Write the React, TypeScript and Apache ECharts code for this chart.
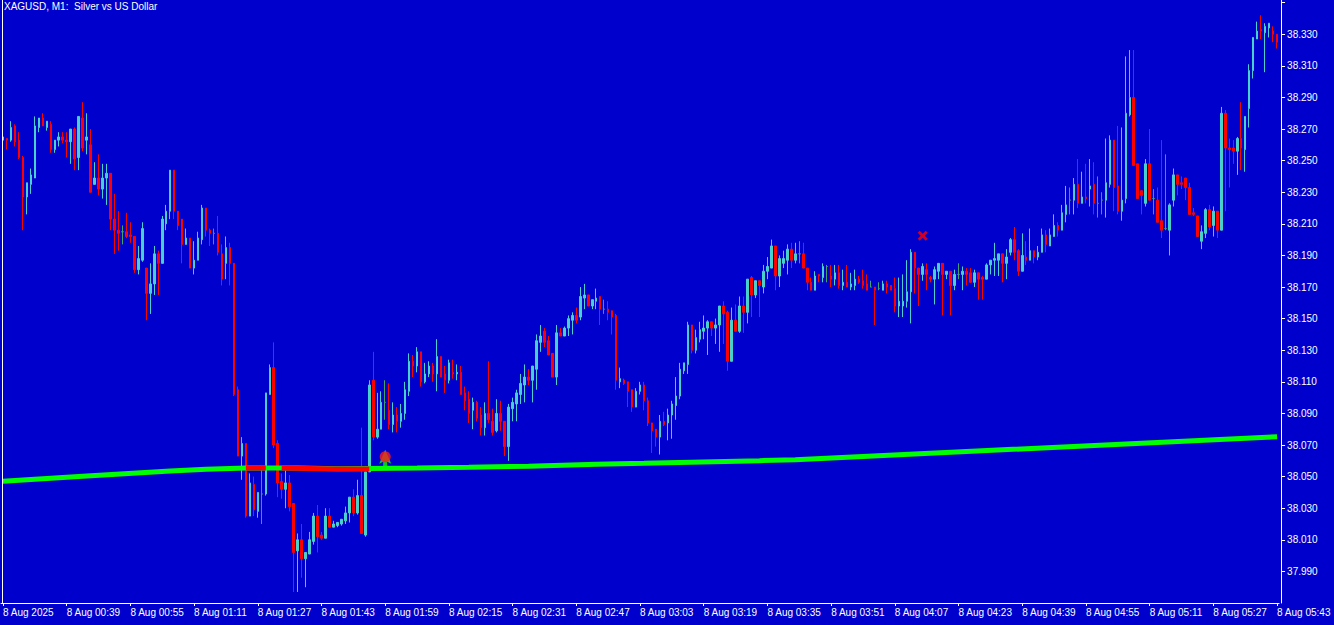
import React, { useEffect, useRef } from "react";
import * as echarts from "echarts";

const chartTitle = "XAGUSD, M1:  Silver vs US Dollar";
const firstBarMinute = 23; // 00:23
const labelStep = 16;
const timeLabels = [
  "8 Aug 2025", "8 Aug 00:39", "8 Aug 00:55", "8 Aug 01:11", "8 Aug 01:27", "8 Aug 01:43",
  "8 Aug 01:59", "8 Aug 02:15", "8 Aug 02:31", "8 Aug 02:47", "8 Aug 03:03", "8 Aug 03:19",
  "8 Aug 03:35", "8 Aug 03:51", "8 Aug 04:07", "8 Aug 04:23", "8 Aug 04:39", "8 Aug 04:55",
  "8 Aug 05:11", "8 Aug 05:27", "8 Aug 05:43",
];
const topPriceLabel = 38.33;

const opens = [
  38.263,38.264,38.263,38.272,38.263,38.252,38.227,38.235,38.239,38.271,
  38.277,38.271,38.273,38.257,38.263,38.265,38.263,38.262,38.270,38.252,
  38.277,38.263,38.260,38.235,38.239,38.232,38.239,38.242,38.213,38.206,
  38.205,38.205,38.203,38.202,38.181,38.187,38.182,38.166,38.172,38.191,
  38.185,38.210,38.218,38.244,38.218,38.213,38.197,38.201,38.182,38.187,
  38.200,38.220,38.206,38.204,38.204,38.191,38.185,38.195,38.185,38.105,
  38.063,38.071,38.025,38.045,38.028,38.039,38.039,38.102,38.119,38.071,
  38.047,38.042,38.046,38.033,38.003,38.010,37.998,38.001,38.009,38.025,
  38.013,38.011,38.025,38.018,38.019,38.020,38.022,38.027,38.037,38.027,
  38.038,38.013,38.053,38.111,38.075,38.080,38.097,38.092,38.083,38.089,
  38.085,38.090,38.104,38.123,38.120,38.129,38.110,38.115,38.120,38.115,
  38.126,38.115,38.111,38.116,38.115,38.116,38.103,38.099,38.092,38.097,
  38.089,38.081,38.090,38.085,38.079,38.090,38.085,38.069,38.093,38.096,
  38.102,38.108,38.113,38.111,38.118,38.135,38.142,38.136,38.128,38.113,
  38.141,38.139,38.144,38.149,38.152,38.151,38.163,38.165,38.158,38.161,
  38.164,38.156,38.156,38.155,38.152,38.110,38.111,38.110,38.105,38.094,
  38.104,38.108,38.098,38.084,38.080,38.075,38.085,38.084,38.089,38.095,
  38.101,38.117,38.121,38.146,38.130,38.137,38.142,38.144,38.148,38.144,
  38.146,38.158,38.154,38.123,38.149,38.142,38.158,38.154,38.176,38.165,
  38.174,38.170,38.180,38.182,38.196,38.177,38.185,38.187,38.194,38.187,
  38.191,38.191,38.182,38.173,38.168,38.178,38.176,38.183,38.177,38.175,
  38.179,38.171,38.173,38.170,38.171,38.175,38.174,38.172,38.170,38.170,
  38.169,38.168,38.172,38.171,38.169,38.158,38.158,38.161,38.167,38.192,
  38.182,38.178,38.181,38.176,38.175,38.180,38.185,38.178,38.180,38.171,
  38.178,38.178,38.180,38.179,38.173,38.179,38.176,38.175,38.184,38.187,
  38.187,38.191,38.185,38.192,38.200,38.193,38.180,38.189,38.187,38.193,
  38.189,38.192,38.203,38.196,38.202,38.209,38.206,38.216,38.225,38.225,
  38.235,38.223,38.227,38.232,38.235,38.223,38.225,38.225,38.235,38.263,
  38.234,38.218,38.226,38.279,38.290,38.248,38.231,38.223,38.248,38.226,
  38.225,38.212,38.207,38.206,38.225,38.241,38.236,38.239,38.233,38.217,
  38.215,38.199,38.204,38.219,38.209,38.218,38.206,38.280,38.258,38.258,
  38.256,38.264,38.257,38.283,38.307,38.327,38.333,38.331,38.334,38.332,
  38.330,
];

const highs = [
  38.266,38.264,38.275,38.273,38.268,38.253,38.236,38.245,38.278,38.277,
  38.280,38.275,38.275,38.263,38.268,38.268,38.268,38.270,38.271,38.278,
  38.287,38.280,38.270,38.249,38.254,38.248,38.248,38.242,38.229,38.218,
  38.209,38.217,38.211,38.202,38.196,38.211,38.182,38.185,38.196,38.193,
  38.215,38.222,38.244,38.244,38.218,38.213,38.207,38.201,38.199,38.205,
  38.222,38.220,38.207,38.207,38.215,38.197,38.202,38.198,38.185,38.107,
  38.075,38.071,38.052,38.050,38.040,38.054,38.103,38.121,38.135,38.073,
  38.052,38.054,38.051,38.033,38.014,38.020,38.002,38.015,38.027,38.032,
  38.015,38.030,38.030,38.022,38.021,38.023,38.031,38.037,38.042,38.048,
  38.081,38.053,38.111,38.129,38.103,38.104,38.111,38.109,38.097,38.094,
  38.096,38.110,38.128,38.127,38.132,38.129,38.122,38.123,38.122,38.137,
  38.126,38.120,38.124,38.124,38.121,38.120,38.107,38.104,38.100,38.098,
  38.094,38.097,38.123,38.093,38.099,38.098,38.085,38.096,38.100,38.105,
  38.115,38.121,38.118,38.120,38.140,38.146,38.144,38.139,38.128,38.146,
  38.144,38.145,38.152,38.154,38.157,38.170,38.172,38.165,38.162,38.169,
  38.164,38.162,38.161,38.155,38.153,38.119,38.112,38.110,38.105,38.106,
  38.110,38.110,38.100,38.084,38.080,38.089,38.091,38.093,38.098,38.113,
  38.122,38.122,38.148,38.146,38.143,38.148,38.152,38.149,38.148,38.150,
  38.158,38.161,38.155,38.157,38.159,38.164,38.164,38.175,38.177,38.174,
  38.174,38.184,38.189,38.200,38.196,38.190,38.193,38.197,38.198,38.198,
  38.199,38.198,38.182,38.176,38.180,38.178,38.185,38.184,38.184,38.184,
  38.184,38.181,38.184,38.179,38.181,38.177,38.181,38.178,38.174,38.170,
  38.173,38.174,38.174,38.171,38.176,38.176,38.178,38.187,38.194,38.192,
  38.182,38.185,38.185,38.177,38.183,38.185,38.185,38.180,38.180,38.181,
  38.185,38.183,38.182,38.182,38.181,38.179,38.177,38.185,38.187,38.198,
  38.191,38.191,38.194,38.201,38.208,38.194,38.204,38.199,38.207,38.193,
  38.196,38.207,38.206,38.207,38.216,38.211,38.222,38.234,38.233,38.239,
  38.251,38.243,38.248,38.251,38.249,38.240,38.230,38.264,38.266,38.263,
  38.272,38.271,38.316,38.320,38.320,38.248,38.231,38.251,38.270,38.232,
  38.233,38.263,38.254,38.223,38.245,38.241,38.240,38.239,38.236,38.220,
  38.215,38.209,38.220,38.222,38.221,38.218,38.284,38.282,38.264,38.263,
  38.265,38.287,38.278,38.311,38.328,38.338,38.342,38.337,38.337,38.335,
  38.330,
];

const lows = [
  38.262,38.257,38.262,38.259,38.251,38.206,38.216,38.229,38.239,38.268,
  38.272,38.269,38.255,38.255,38.259,38.261,38.252,38.248,38.244,38.244,
  38.256,38.254,38.230,38.235,38.228,38.226,38.222,38.206,38.191,38.193,
  38.197,38.201,38.198,38.179,38.178,38.186,38.149,38.153,38.165,38.165,
  38.185,38.206,38.213,38.213,38.206,38.185,38.197,38.182,38.178,38.187,
  38.197,38.202,38.196,38.197,38.190,38.171,38.175,38.171,38.101,38.063,
  38.048,38.024,38.025,38.025,38.024,38.020,38.038,38.102,38.068,38.037,
  38.036,38.030,38.028,37.977,37.977,37.986,37.980,38.001,38.007,38.002,
  38.010,38.011,38.018,38.018,38.018,38.019,38.020,38.021,38.025,38.026,
  38.014,38.012,38.053,38.073,38.074,38.080,38.086,38.080,38.078,38.078,
  38.081,38.086,38.101,38.113,38.116,38.107,38.109,38.113,38.110,38.104,
  38.113,38.103,38.109,38.112,38.111,38.102,38.092,38.084,38.080,38.085,
  38.076,38.076,38.084,38.076,38.078,38.079,38.063,38.060,38.085,38.085,
  38.096,38.097,38.108,38.097,38.105,38.129,38.132,38.127,38.113,38.108,
  38.139,38.139,38.139,38.140,38.147,38.149,38.156,38.158,38.156,38.156,
  38.146,38.153,38.149,38.140,38.105,38.106,38.108,38.094,38.091,38.094,
  38.102,38.092,38.082,38.065,38.069,38.064,38.082,38.073,38.074,38.086,
  38.099,38.115,38.115,38.128,38.128,38.135,38.137,38.127,38.139,38.134,
  38.129,38.134,38.117,38.123,38.142,38.141,38.141,38.147,38.151,38.163,
  38.151,38.166,38.175,38.182,38.168,38.170,38.182,38.178,38.182,38.185,
  38.185,38.182,38.168,38.168,38.168,38.173,38.173,38.173,38.170,38.171,
  38.169,38.168,38.170,38.168,38.168,38.172,38.169,38.168,38.170,38.146,
  38.168,38.168,38.166,38.168,38.154,38.151,38.151,38.157,38.147,38.166,
  38.158,38.174,38.168,38.173,38.159,38.175,38.152,38.175,38.152,38.168,
  38.175,38.168,38.171,38.173,38.170,38.162,38.162,38.175,38.178,38.177,
  38.177,38.173,38.175,38.190,38.187,38.177,38.180,38.184,38.187,38.185,
  38.187,38.192,38.192,38.196,38.202,38.202,38.206,38.211,38.216,38.216,
  38.220,38.223,38.223,38.221,38.216,38.214,38.216,38.214,38.233,38.218,
  38.216,38.212,38.223,38.278,38.247,38.226,38.216,38.221,38.225,38.216,
  38.211,38.201,38.206,38.190,38.221,38.228,38.232,38.225,38.216,38.215,
  38.202,38.194,38.201,38.206,38.202,38.201,38.206,38.218,38.233,38.248,
  38.241,38.244,38.243,38.271,38.302,38.327,38.327,38.306,38.328,38.325,
  38.321,
];

const closes = [
  38.265,38.263,38.271,38.262,38.252,38.227,38.236,38.241,38.272,38.277,
  38.272,38.275,38.257,38.263,38.265,38.263,38.262,38.270,38.251,38.278,
  38.258,38.265,38.230,38.239,38.232,38.239,38.242,38.213,38.206,38.204,
  38.205,38.202,38.202,38.181,38.188,38.207,38.166,38.172,38.191,38.185,
  38.213,38.218,38.244,38.218,38.209,38.197,38.201,38.182,38.187,38.201,
  38.220,38.206,38.204,38.204,38.192,38.175,38.195,38.185,38.102,38.063,
  38.071,38.025,38.046,38.029,38.040,38.039,38.103,38.119,38.070,38.046,
  38.042,38.046,38.031,38.002,38.010,37.998,38.002,38.010,38.025,38.012,
  38.011,38.025,38.018,38.020,38.021,38.023,38.027,38.037,38.027,38.038,
  38.014,38.053,38.108,38.075,38.080,38.097,38.097,38.083,38.089,38.085,
  38.090,38.105,38.123,38.120,38.129,38.110,38.115,38.120,38.115,38.126,
  38.113,38.111,38.122,38.115,38.116,38.102,38.098,38.090,38.097,38.087,
  38.081,38.090,38.086,38.078,38.090,38.085,38.069,38.094,38.097,38.103,
  38.109,38.113,38.111,38.120,38.136,38.139,38.135,38.127,38.113,38.141,
  38.139,38.144,38.150,38.152,38.149,38.164,38.165,38.158,38.162,38.163,
  38.156,38.156,38.154,38.151,38.111,38.112,38.109,38.104,38.094,38.104,
  38.108,38.098,38.084,38.079,38.075,38.085,38.083,38.089,38.096,38.101,
  38.118,38.122,38.146,38.130,38.138,38.143,38.144,38.148,38.144,38.146,
  38.158,38.153,38.123,38.149,38.142,38.158,38.154,38.175,38.165,38.174,
  38.171,38.180,38.183,38.196,38.177,38.188,38.188,38.194,38.187,38.191,
  38.191,38.182,38.173,38.168,38.177,38.177,38.183,38.183,38.175,38.179,
  38.171,38.173,38.170,38.172,38.175,38.173,38.171,38.168,38.170,38.168,
  38.169,38.172,38.170,38.168,38.158,38.161,38.161,38.167,38.192,38.182,
  38.178,38.183,38.178,38.175,38.181,38.185,38.178,38.180,38.171,38.178,
  38.178,38.180,38.178,38.173,38.179,38.175,38.175,38.184,38.187,38.188,
  38.191,38.185,38.189,38.200,38.192,38.180,38.190,38.187,38.193,38.189,
  38.192,38.203,38.197,38.203,38.209,38.206,38.217,38.222,38.225,38.235,
  38.223,38.227,38.226,38.234,38.223,38.223,38.225,38.236,38.263,38.233,
  38.218,38.225,38.280,38.290,38.247,38.226,38.228,38.248,38.225,38.226,
  38.211,38.206,38.207,38.222,38.241,38.235,38.235,38.233,38.216,38.216,
  38.202,38.205,38.219,38.208,38.218,38.206,38.280,38.258,38.257,38.256,
  38.264,38.258,38.278,38.307,38.328,38.332,38.332,38.335,38.337,38.330,
  38.325,
];

// trend line (indicator) read at a few bars
const trendBars = [0, 20, 42, 51, 61, 74, 84, 92, 104, 117, 132, 149, 161, 190, 199, 320];
const trendValues = [38.0471, 38.0503, 38.0535, 38.0547, 38.0555, 38.0555, 38.0550, 38.0552,
  38.0555, 38.0560, 38.0566, 38.0579, 38.0585, 38.0601, 38.0607, 38.0753];
// red (price below) segments of the indicator
const redSegA_bars = [61, 66];
const redSegA_values = [38.0555, 38.0555];
const redSegB_bars = [70, 84, 92];
const redSegB_values = [38.0555, 38.0549, 38.0549];

const buyArrowBar = 96;
const buyArrowPrice = 38.0617;
const buyDotPrice = 38.0625;
const crossBar = 231;
const crossPrice = 38.2024;

const BG = "#0000CC";
const BULL = "#48D1CC";
const BEAR = "#FF0000";
const DOJI = "#3FA46A";
const FONT = "'Liberation Sans', Arial, sans-serif";

function sparse(bars: number[], values: number[], n: number) {
  const arr: (number | null)[] = new Array(n).fill(null);
  bars.forEach((b, i) => (arr[b] = values[i]));
  return arr;
}

export default function App() {
  const ref = useRef<HTMLDivElement>(null);
  useEffect(() => {
    if (!ref.current) return;
    const chart = echarts.init(ref.current, undefined, { renderer: "svg" });
    const n = opens.length;
    const categories = opens.map((_, i) => {
      const m = firstBarMinute + i;
      const hh = String(Math.floor(m / 60)).padStart(2, "0");
      const mm = String(m % 60).padStart(2, "0");
      return `${hh}:${mm}`;
    });
    const candles = opens.map((o, i) => [o, closes[i], lows[i], highs[i]]);
    const showIdx = (idx: number) => idx % labelStep === 0;

    chart.setOption({
      animation: false,
      backgroundColor: BG,
      title: {
        text: chartTitle,
        left: 4,
        top: 1,
        padding: 0,
        textStyle: { color: "#FFFFFF", fontSize: 10, fontWeight: "normal", fontFamily: FONT },
      },
      grid: { left: 0.5, top: 0, width: 1284, height: 603 },
      xAxis: {
        type: "category",
        data: categories,
        boundaryGap: true,
        axisLine: { show: true, lineStyle: { color: "#FFFFFF", width: 1 } },
        axisTick: { show: true, interval: showIdx, alignWithLabel: true, length: 3, lineStyle: { color: "#FFFFFF" } },
        axisLabel: {
          interval: showIdx,
          formatter: (_v: string, idx: number) => timeLabels[idx / labelStep] ?? "",
          align: "left",
          color: "#FFFFFF",
          fontSize: 10,
          fontFamily: FONT,
          margin: 4,
        },
        splitLine: { show: false },
      },
      yAxis: {
        type: "value",
        position: "right",
        offset: 2,
        min: 37.97,
        max: 38.3517,
        interval: 0.02,
        scale: true,
        axisLine: { show: true, lineStyle: { color: "#FFFFFF", width: 1 } },
        axisTick: { show: true, length: 4, inside: false, lineStyle: { color: "#FFFFFF" } },
        axisLabel: {
          showMinLabel: false,
          showMaxLabel: false,
          formatter: (v: number) => (v > topPriceLabel + 0.005 ? "" : v.toFixed(3)),
          color: "#FFFFFF",
          fontSize: 10,
          fontFamily: FONT,
          margin: 6,
        },
        splitLine: { show: false },
      },
      graphic: [
        { type: "line", shape: { x1: 2.5, y1: 0, x2: 2.5, y2: 603 }, style: { stroke: "#FFFFFF", lineWidth: 1 }, z: 100 },
      ],
      series: [
        {
          type: "candlestick",
          data: candles,
          barWidth: 2,
          itemStyle: {
            color: BULL,
            color0: BEAR,
            borderColor: BULL,
            borderColor0: BEAR,
            borderColorDoji: DOJI,
            borderWidth: 1,
          },
          z: 2,
        },
        {
          type: "line",
          data: sparse(trendBars, trendValues, n),
          connectNulls: true,
          symbol: "none",
          lineStyle: { color: "#00FF00", width: 5 },
          z: 3,
        },
        {
          type: "line",
          data: sparse(redSegA_bars, redSegA_values, n),
          connectNulls: true,
          symbol: "none",
          lineStyle: { color: "#FF0000", width: 5 },
          z: 4,
        },
        {
          type: "line",
          data: sparse(redSegB_bars, redSegB_values, n),
          connectNulls: true,
          symbol: "none",
          lineStyle: { color: "#FF0000", width: 5 },
          z: 4,
        },
        {
          type: "scatter",
          data: [[buyArrowBar, buyArrowPrice]],
          symbol: "path://M6,0 L12,14 L8,12 L8,17 L4,17 L4,12 L0,14 Z",
          symbolSize: [12, 17],
          itemStyle: { color: "#00FF00" },
          z: 5,
        },
        {
          type: "scatter",
          data: [[buyArrowBar, buyDotPrice]],
          symbol: "circle",
          symbolSize: 11,
          itemStyle: { color: "#FF1A1A" },
          z: 6,
        },
        {
          type: "scatter",
          data: [[crossBar, crossPrice]],
          symbol: "path://M2,0 L5,3 L8,0 L10,2 L7,5 L10,8 L8,10 L5,7 L2,10 L0,8 L3,5 L0,2 Z",
          symbolSize: 10,
          itemStyle: { color: "#FF0000" },
          z: 6,
        },
      ],
    });
    return () => chart.dispose();
  }, []);

  return (
    <div
      ref={ref}
      style={{ position: "fixed", left: 0, top: 0, width: 1334, height: 625, background: BG }}
    />
  );
}
